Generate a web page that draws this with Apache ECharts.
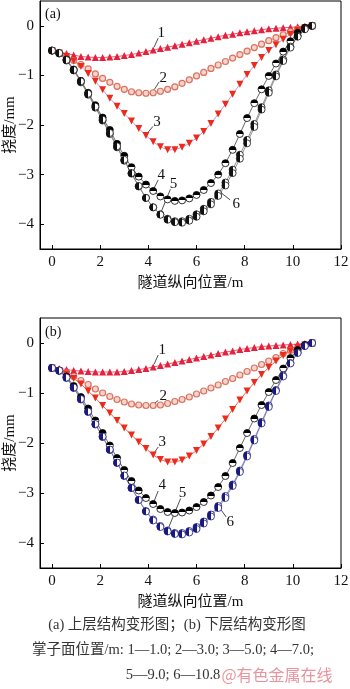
<!DOCTYPE html>
<html>
<head>
<meta charset="utf-8">
<script src="https://cdn.jsdelivr.net/npm/echarts@6/dist/echarts.min.js"></script>
<style>
  html, body { margin: 0; padding: 0; background: #fff; }
  #chart { width: 350px; height: 689px; }
</style>
</head>
<body>
<div id="chart"></div>
<script>
// tunnel position along the axis (m)
const xPos = [0, 0.3, 0.6, 0.9, 1.2, 1.5, 1.8, 2.1, 2.4, 2.7, 3.0, 3.3, 3.6, 3.9, 4.2, 4.5, 4.8, 5.1, 5.4, 5.7,
  6.0, 6.3, 6.6, 6.9, 7.2, 7.5, 7.8, 8.1, 8.4, 8.7, 9.0, 9.3, 9.6, 9.9, 10.2, 10.5, 10.8];
const xTicks = [0, 2, 4, 6, 8, 10, 12];
const yTicks = [0, -1, -2, -3, -4];

// (a) upper structure deflection, mm
const a1 = [-0.50, -0.53, -0.56, -0.59, -0.62, -0.63, -0.64, -0.64, -0.63, -0.62, -0.60, -0.58, -0.55, -0.52, -0.49, -0.46, -0.43, -0.40, -0.37, -0.34,
  -0.31, -0.28, -0.25, -0.22, -0.19, -0.17, -0.14, -0.12, -0.10, -0.08, -0.06, -0.05, -0.04, -0.03, -0.02, -0.01, 0];
const a2 = [-0.50, -0.55, -0.62, -0.70, -0.78, -0.87, -0.97, -1.06, -1.14, -1.22, -1.28, -1.33, -1.35, -1.36, -1.35, -1.32, -1.28, -1.23, -1.16, -1.09,
  -1.01, -0.94, -0.86, -0.79, -0.72, -0.65, -0.58, -0.51, -0.44, -0.37, -0.30, -0.24, -0.18, -0.12, -0.07, -0.03, 0];
const a3 = [-0.50, -0.55, -0.62, -0.71, -0.82, -0.96, -1.12, -1.29, -1.46, -1.62, -1.77, -1.92, -2.07, -2.21, -2.34, -2.44, -2.50, -2.50, -2.45, -2.37,
  -2.26, -2.13, -1.97, -1.78, -1.58, -1.38, -1.18, -0.98, -0.80, -0.64, -0.50, -0.38, -0.27, -0.17, -0.09, -0.04, 0];
const a4 = [-0.50, -0.55, -0.68, -0.88, -1.11, -1.35, -1.60, -1.85, -2.10, -2.38, -2.62, -2.85, -3.04, -3.20, -3.33, -3.44, -3.50, -3.53, -3.52, -3.48,
  -3.41, -3.31, -3.17, -3.00, -2.77, -2.50, -2.18, -1.86, -1.56, -1.28, -1.01, -0.76, -0.52, -0.31, -0.14, -0.04, 0];
const a5 = [-0.50, -0.56, -0.70, -0.90, -1.14, -1.39, -1.65, -1.91, -2.18, -2.45, -2.72, -2.98, -3.24, -3.47, -3.66, -3.80, -3.89, -3.94, -3.94, -3.89,
  -3.80, -3.69, -3.55, -3.38, -3.16, -2.90, -2.60, -2.30, -1.98, -1.64, -1.30, -0.98, -0.68, -0.42, -0.20, -0.06, 0];
const a6 = [-0.50, -0.55, -0.69, -0.89, -1.12, -1.37, -1.63, -1.89, -2.16, -2.43, -2.70, -2.97, -3.23, -3.47, -3.66, -3.81, -3.91, -3.96, -3.97, -3.93,
  -3.85, -3.74, -3.60, -3.43, -3.22, -2.97, -2.68, -2.37, -2.04, -1.69, -1.35, -1.02, -0.71, -0.44, -0.22, -0.07, 0];

// (b) lower structure deflection, mm
const b1 = [-0.50, -0.51, -0.53, -0.55, -0.56, -0.57, -0.58, -0.58, -0.58, -0.58, -0.57, -0.55, -0.53, -0.51, -0.48, -0.45, -0.42, -0.39, -0.36, -0.33,
  -0.30, -0.27, -0.24, -0.21, -0.18, -0.16, -0.13, -0.11, -0.09, -0.07, -0.06, -0.05, -0.04, -0.03, -0.02, -0.01, 0];
const b2 = [-0.50, -0.54, -0.60, -0.67, -0.75, -0.83, -0.92, -1.00, -1.07, -1.13, -1.18, -1.22, -1.24, -1.25, -1.25, -1.24, -1.21, -1.17, -1.13, -1.08,
  -1.02, -0.96, -0.90, -0.84, -0.77, -0.71, -0.64, -0.57, -0.50, -0.43, -0.36, -0.29, -0.21, -0.15, -0.09, -0.04, 0];
const b3 = [-0.50, -0.55, -0.62, -0.71, -0.82, -0.96, -1.10, -1.25, -1.40, -1.55, -1.70, -1.84, -1.98, -2.11, -2.24, -2.33, -2.38, -2.38, -2.34, -2.26,
  -2.15, -2.02, -1.87, -1.70, -1.52, -1.33, -1.14, -0.96, -0.79, -0.63, -0.49, -0.36, -0.25, -0.16, -0.09, -0.04, 0];
const b4 = [-0.50, -0.55, -0.67, -0.86, -1.08, -1.31, -1.55, -1.80, -2.05, -2.30, -2.54, -2.76, -2.95, -3.10, -3.22, -3.32, -3.38, -3.40, -3.39, -3.35,
  -3.28, -3.18, -3.05, -2.88, -2.66, -2.40, -2.10, -1.80, -1.51, -1.24, -0.98, -0.74, -0.51, -0.30, -0.14, -0.04, 0];
const b5 = [-0.50, -0.56, -0.70, -0.90, -1.13, -1.38, -1.63, -1.88, -2.14, -2.40, -2.66, -2.90, -3.14, -3.36, -3.53, -3.66, -3.75, -3.80, -3.80, -3.76,
  -3.68, -3.57, -3.43, -3.26, -3.06, -2.83, -2.55, -2.24, -1.92, -1.58, -1.25, -0.94, -0.65, -0.40, -0.19, -0.06, 0];
const b6 = [-0.50, -0.55, -0.69, -0.89, -1.12, -1.37, -1.62, -1.87, -2.13, -2.39, -2.65, -2.90, -3.14, -3.37, -3.55, -3.68, -3.77, -3.82, -3.83, -3.79,
  -3.72, -3.61, -3.47, -3.30, -3.10, -2.86, -2.58, -2.27, -1.95, -1.61, -1.28, -0.96, -0.67, -0.41, -0.20, -0.06, 0];

const serif = '"Liberation Serif", "DejaVu Serif", serif';
const cjk = '"Noto Sans CJK SC", sans-serif';
const mixed = '"Liberation Serif", "Noto Sans CJK SC", serif';

const chart = echarts.init(document.getElementById('chart'), null, { renderer: 'canvas' });

const halfFill = (vertical, dark) =>
  new echarts.graphic.LinearGradient(0, 0, vertical ? 0 : 1, vertical ? 1 : 0, [
    { offset: 0, color: dark },
    { offset: 0.5, color: dark },
    { offset: 0.5, color: '#fff' },
    { offset: 1, color: '#fff' },
  ]);

const pts = (arr) => xPos.map((x, i) => [x, arr[i]]);

const makeSeries = (g, d, lower) => {
  const s56Mark = lower ? '#1a1a7e' : '#111';
  const s56Line = lower ? '#6f6fb0' : '#777';
  return [
    {
      data: pts(d[0]), symbol: 'triangle', symbolSize: 7,
      lineStyle: { color: '#e8304a', width: 0.8 },
      itemStyle: { color: '#e5213f' },
    },
    {
      data: pts(d[1]), symbol: 'circle', symbolSize: 6,
      lineStyle: { color: '#e79a8e', width: 0.8 },
      itemStyle: { color: '#f6d3cc', borderColor: '#d8735f', borderWidth: 1.2 },
    },
    {
      data: pts(d[2]), symbol: 'triangle', symbolRotate: 180, symbolSize: 7,
      lineStyle: { color: lower ? '#e8402c' : '#9d86dc', width: 0.8 },
      itemStyle: { color: '#ee2a1c' },
    },
    {
      data: pts(d[3]), symbol: 'circle', symbolSize: 7,
      lineStyle: { color: '#444', width: 0.8 },
      itemStyle: { color: halfFill(true, '#000'), borderColor: '#000', borderWidth: 0.8 },
    },
    {
      data: pts(d[4]), symbol: 'circle', symbolSize: 7,
      lineStyle: { color: s56Line, width: 0.8 },
      itemStyle: { color: halfFill(false, s56Mark), borderColor: s56Mark, borderWidth: 0.8 },
    },
    {
      data: pts(d[5]), symbol: 'circle', symbolSize: 7,
      lineStyle: { color: s56Line, width: 0.8 },
      itemStyle: { color: halfFill(false, s56Mark), borderColor: s56Mark, borderWidth: 0.8 },
    },
  ].map((s) => ({ type: 'line', xAxisIndex: g, yAxisIndex: g, animation: false, silent: true, ...s }));
};

const xAxisOf = (g) => ({
  gridIndex: g, type: 'value', min: -0.5, max: 12,
  name: '隧道纵向位置/m', nameLocation: 'middle', nameGap: 27,
  nameTextStyle: { fontFamily: mixed, fontSize: 15, color: '#111' },
  axisLine: { onZero: false, lineStyle: { color: '#000', width: 1 } },
  axisTick: { inside: true, length: 4, customValues: xTicks, lineStyle: { color: '#000' } },
  axisLabel: { customValues: xTicks, fontFamily: serif, fontSize: 15, color: '#111', margin: 6 },
  splitLine: { show: false },
});

const yAxisOf = (g) => ({
  gridIndex: g, type: 'value', min: -4.5, max: 0.5,
  axisLine: { onZero: false, lineStyle: { color: '#000', width: 1 } },
  axisTick: { inside: true, length: 4, customValues: yTicks, lineStyle: { color: '#000' } },
  axisLabel: {
    customValues: yTicks, fontFamily: serif, fontSize: 15, color: '#111', margin: 6,
    formatter: (v) => String(v).replace('-', '\u2212'),
  },
  splitLine: { show: false },
});

const option = {
  backgroundColor: '#fff',
  grid: [
    { left: 40, top: 1, width: 301, height: 248, show: true, borderColor: '#000', borderWidth: 1, outerBoundsMode: 'none', containLabel: false },
    { left: 40, top: 318, width: 301, height: 250, show: true, borderColor: '#000', borderWidth: 1, outerBoundsMode: 'none', containLabel: false },
  ],
  xAxis: [xAxisOf(0), xAxisOf(1)],
  yAxis: [yAxisOf(0), yAxisOf(1)],
  series: [...makeSeries(0, [a1, a2, a3, a4, a5, a6], false), ...makeSeries(1, [b1, b2, b3, b4, b5, b6], true)],
};
chart.setOption(option);

// curve labels 1-6 with short leader lines, anchored at a data point of each curve
const notes = [
  { g: 0, arr: a1, i: 14, text: '1', l: [1, -3, 5, -12], t: [8, -17] },
  { g: 0, arr: a2, i: 14, text: '2', l: [1, -3, 6, -11], t: [10, -15] },
  { g: 0, arr: a3, i: 13, text: '3', l: [2, -3, 7, -9], t: [11, -13] },
  { g: 0, arr: a4, i: 14, text: '4', l: [1, -3, 5, -11], t: [8, -16] },
  { g: 0, arr: a5, i: 15, text: '5', l: [1, -3, 10, -25], t: [13, -30] },
  { g: 0, arr: a6, i: 23, text: '6', l: [3, -3, 12, 4], t: [18, 8] },
  { g: 1, arr: b1, i: 14, text: '1', l: [1, -3, 5, -12], t: [9, -17] },
  { g: 1, arr: b2, i: 14, text: '2', l: [1, -2, 5, -5], t: [10, -9] },
  { g: 1, arr: b3, i: 14, text: '3', l: [1, -2, 5, -8], t: [9, -13] },
  { g: 1, arr: b4, i: 14, text: '4', l: [1, -3, 5, -13], t: [9, -19] },
  { g: 1, arr: b5, i: 16, text: '5', l: [1, -3, 13, -32], t: [15, -37] },
  { g: 1, arr: b6, i: 23, text: '6', l: [3, 2, 8, 9], t: [12, 14] },
];

const graphic = [];
notes.forEach((n) => {
  const [px, py] = chart.convertToPixel({ gridIndex: n.g }, [xPos[n.i], n.arr[n.i]]);
  graphic.push({
    type: 'line', silent: true,
    shape: { x1: px + n.l[0], y1: py + n.l[1], x2: px + n.l[2], y2: py + n.l[3] },
    style: { stroke: '#222', lineWidth: 0.8 },
  });
  graphic.push({
    type: 'text', silent: true, x: px + n.t[0], y: py + n.t[1],
    style: { text: n.text, fontFamily: serif, fontSize: 15, fill: '#111', align: 'center', verticalAlign: 'middle' },
  });
});

// panel tags, y axis titles and caption
const addText = (text, x, y, font, size, fill, align, rotation) =>
  graphic.push({
    type: 'text', silent: true, x, y, rotation: rotation || 0,
    style: { text, fontFamily: font, fontSize: size, fill, align: align || 'center', verticalAlign: 'middle' },
  });
addText('(a)', 45, 14, serif, 14, '#111', 'left');
addText('(b)', 45, 332, serif, 14, '#111', 'left');
[0, 1].forEach((g) => {
  const [, cy] = chart.convertToPixel({ gridIndex: g }, [0, -2]);
  addText('挠度/mm', 10, cy, mixed, 15, '#111', 'center', Math.PI / 2);
});
addText('(a) 上层结构变形图；(b) 下层结构变形图', 177, 625, mixed, 14.5, '#333');
addText('掌子面位置/m: 1—1.0; 2—3.0; 3—5.0; 4—7.0;', 173, 650, mixed, 14.5, '#333');
addText('5—9.0; 6—10.8', 173, 675, mixed, 14.5, '#333');
addText('@有色金属在线', 277, 675, cjk, 16, 'rgba(226,120,132,0.8)');

chart.setOption({ graphic });
</script>
</body>
</html>
